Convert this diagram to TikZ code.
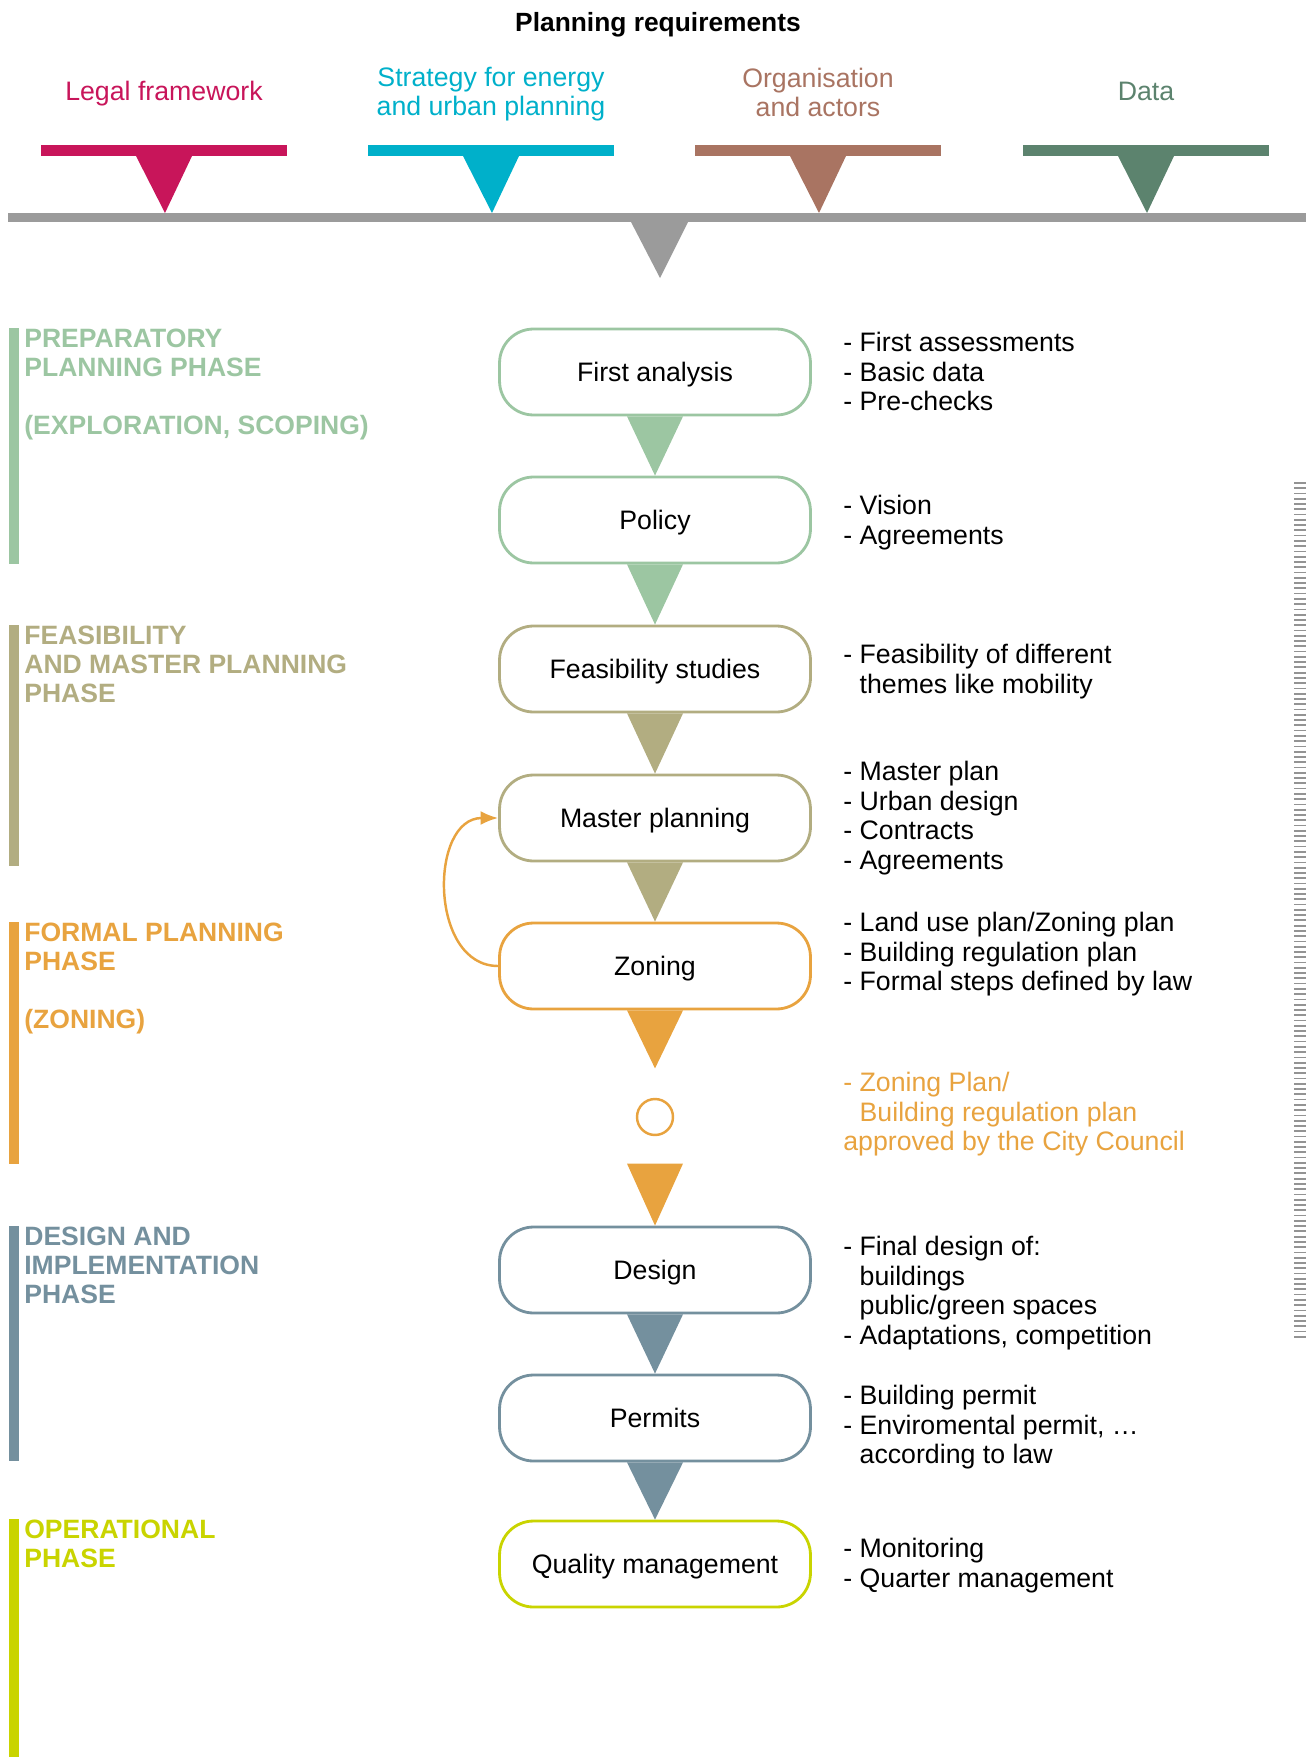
\documentclass[tikz,border=0pt]{standalone}
\usepackage{fontspec}
\setmainfont{Liberation Sans}
\usepackage{tikz}
\usepackage{xcolor}
\usetikzlibrary{arrows.meta, positioning, calc}

\definecolor{legalcol}{HTML}{C8155A}
\definecolor{stratcol}{HTML}{00B0CA}
\definecolor{orgcol}{HTML}{A97462}
\definecolor{datacol}{HTML}{5C836E}
\definecolor{barcol}{HTML}{9B9B9B}
\definecolor{prepcol}{HTML}{9CC6A2}
\definecolor{feascol}{HTML}{B2AD81}
\definecolor{formcol}{HTML}{E8A33F}
\definecolor{desigcol}{HTML}{74909E}
\definecolor{opcol}{HTML}{C9D400}

\newcommand{\boxtxt}{\fontsize{15.2}{17}\selectfont}
\newcommand{\notetxt}{\fontsize{15.2}{16.8}\selectfont}
\newcommand{\phasetxt}{\bfseries\fontsize{15.1}{16.5}\selectfont}
\newcommand{\flowtri}[3]{\fill[#1] ($(#2.south)+(-28,0)$) -- ($(#2.south)+(28,0)$) -- (#3.north) -- cycle;}

\tikzset{
  stepbox/.style={draw, fill=white, rounded corners=0.68cm, line width=1.6pt,
    minimum width=6.22cm, minimum height=1.72cm, font=\boxtxt,
    text height=10.9pt, text depth=0pt},
  note/.style={anchor=north west, align=left, inner sep=0pt, font=\notetxt},
  phase/.style={anchor=north west, align=left, inner sep=0pt, font=\phasetxt},
  reqlabel/.style={align=center, font=\fontsize{15.2}{16.5}\selectfont}
}

\begin{document}
\begin{tikzpicture}[x=0.02cm, y=-0.02cm]
\useasboundingbox (0,0) rectangle (1311,1757);

% Planning requirements
\node[font=\bfseries\fontsize{15}{17}\selectfont] (title) at (658,25) {Planning requirements};
\foreach \cx/\ly/\col/\nm/\txt in {164/94/legalcol/legal/{Legal framework},
    491/94/stratcol/strat/{Strategy for energy\\and urban planning},
    818/92/orgcol/org/{Organisation\\and actors},
    1146/91/datacol/data/{Data}} {
    \node[reqlabel, text=\col] (\nm) at (\cx,\ly) {\txt};
    \fill[\col] (\cx-123,145) rectangle (\cx+123,156);
    \fill[\col] (\cx-28,156) -- (\cx+28,156) -- (\cx+1,213) -- cycle;
}
\fill[barcol] (8,213) rectangle (1306,222);
\fill[barcol] (631,222) -- (688,222) -- (660,278) -- cycle;

% Phases
\fill[prepcol] (9,328) rectangle (19,564);
\node[phase, text=prepcol] (prep) at (24,329) {PREPARATORY\\PLANNING PHASE\\[16.5pt](EXPLORATION, SCOPING)};
\fill[feascol] (9,625) rectangle (19,866);
\node[phase, text=feascol] (feasph) at (24,626) {FEASIBILITY\\AND MASTER PLANNING\\PHASE};
\fill[formcol] (9,922) rectangle (19,1164);
\node[phase, text=formcol] (formal) at (24,923) {FORMAL PLANNING\\PHASE\\[16.5pt](ZONING)};
\fill[desigcol] (9,1226) rectangle (19,1461);
\node[phase, text=desigcol] (desph) at (24,1227) {DESIGN AND\\IMPLEMENTATION\\PHASE};
\fill[opcol] (9,1519) rectangle (19,1757);
\node[phase, text=opcol] (operat) at (24,1520) {OPERATIONAL\\PHASE};

% Steps
\node[stepbox, draw=prepcol] (first) at (655,372) {First analysis};
\node[stepbox, draw=prepcol] (policy) at (655,520) {Policy};
\node[stepbox, draw=feascol] (feas) at (655,669) {Feasibility studies};
\node[stepbox, draw=feascol] (master) at (655,818) {Master planning};
\node[stepbox, draw=formcol] (zoning) at (655,966) {Zoning};
\node[circle, draw=formcol, line width=1.4pt, minimum size=0.72cm, inner sep=0pt] (approved) at (655,1117) {};
\node[stepbox, draw=desigcol] (design) at (655,1270) {Design};
\node[stepbox, draw=desigcol] (permits) at (655,1418) {Permits};
\node[stepbox, draw=opcol] (quality) at (655,1564) {Quality management};

\flowtri{prepcol}{first}{policy}
\flowtri{prepcol}{policy}{feas}
\flowtri{feascol}{feas}{master}
\flowtri{feascol}{master}{zoning}
\fill[formcol] ($(zoning.south)+(-28,0)$) -- ($(zoning.south)+(28,0)$) -- ($(zoning.south)+(0,58)$) -- cycle;
\fill[formcol] ($(design.north)+(-28,-62)$) -- ($(design.north)+(28,-62)$) -- (design.north) -- cycle;
\flowtri{desigcol}{design}{permits}
\flowtri{desigcol}{permits}{quality}

% back to master planning
\draw[formcol, line width=1.4pt, -{Latex[length=10pt, width=8pt]}] (zoning.west) to[out=180, in=180, looseness=1.2] (master.west);

% Notes
\node[note] (firstnote) at (843,332) {- First assessments\\- Basic data\\- Pre-checks};
\node[note] (policynote) at (843,495) {- Vision\\- Agreements};
\node[note] (feasnote) at (843,644) {- Feasibility of different\\\phantom{- }themes like mobility};
\node[note] (masternote) at (843,761) {- Master plan\\- Urban design\\- Contracts\\- Agreements};
\node[note] (zoningnote) at (843,912) {- Land use plan/Zoning plan\\- Building regulation plan\\- Formal steps defined by law};
\node[note, text=formcol] (approvednote) at (843,1072) {- Zoning Plan/\\\phantom{- }Building regulation plan\\approved by the City Council};
\node[note] (designnote) at (843,1236) {- Final design of:\\\phantom{- }buildings\\\phantom{- }public/green spaces\\- Adaptations, competition};
\node[note] (permitsnote) at (843,1385) {- Building permit\\- Enviromental permit, \ldots\\\phantom{- }according to law};
\node[note] (qualitynote) at (843,1538) {- Monitoring\\- Quarter management};

% time scale
\draw[gray!85, line width=6.3pt, dash pattern=on 1pt off 2pt] (1300,482) -- (1300,1340);
\end{tikzpicture}
\end{document}
